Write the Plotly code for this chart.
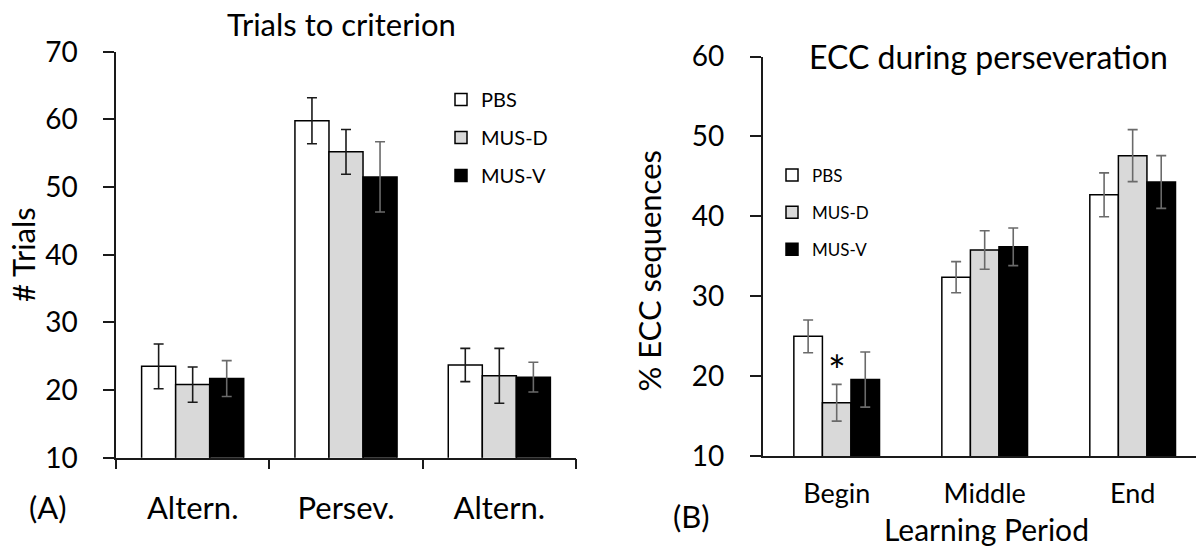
import plotly.graph_objects as go

# ---------------- data ----------------
series = ["PBS", "MUS-D", "MUS-V"]
bar_colors = ["#ffffff", "#d9d9d9", "#000000"]

# Panel A: trials to criterion
cats_a = ["Altern.", "Persev.", "Altern."]
a_pbs = [23.5, 59.8, 23.7]
a_pbs_err = [3.3, 3.4, 2.45]
a_musd = [20.8, 55.2, 22.1]
a_musd_err = [2.6, 3.3, 4.05]
a_musv = [21.7, 51.5, 21.9]
a_musv_err = [2.65, 5.2, 2.2]

# Panel B: ECC during perseveration
cats_b = ["Begin", "Middle", "End"]
b_pbs = [25.0, 32.4, 42.7]
b_pbs_err = [2.05, 1.95, 2.75]
b_musd = [16.7, 35.8, 47.6]
b_musd_err = [2.3, 2.4, 3.25]
b_musv = [19.6, 36.2, 44.3]
b_musv_err = [3.45, 2.35, 3.3]

yticks_a = [10, 20, 30, 40, 50, 60, 70]
yticks_b = [10, 20, 30, 40, 50, 60]

FONT = "Lato, 'Open Sans', sans-serif"
W, H = 1196, 547
AX = "#1a1a1a"
BAR_W_A = 0.222   # bar width in category units, panel A
BAR_W_B = 0.193   # bar width in category units, panel B


def px_x(p):
    return p / W


def px_y(p):
    return 1 - p / H


fig = go.Figure()

a_vals = [a_pbs, a_musd, a_musv]
a_errs = [a_pbs_err, a_musd_err, a_musv_err]
a_errcol = ["#1a1a1a", "#1a1a1a", "#6a6a6a"]
xa = list(range(len(cats_a)))
for i, name in enumerate(series):
    fig.add_trace(go.Bar(
        x=xa, y=a_vals[i], name=name, xaxis="x", yaxis="y",
        width=BAR_W_A, offset=(i - 1.5) * BAR_W_A,
        marker=dict(color=bar_colors[i], line=dict(color="#000000", width=1.5)),
        error_y=dict(type="data", array=a_errs[i], color=a_errcol[i], thickness=1.6, width=5),
        legend="legend", legendgroup="a" + name,
    ))

b_vals = [b_pbs, b_musd, b_musv]
b_errs = [b_pbs_err, b_musd_err, b_musv_err]
for i, name in enumerate(series):
    fig.add_trace(go.Bar(
        x=cats_b, y=b_vals[i], name=name, xaxis="x2", yaxis="y2",
        width=BAR_W_B, offset=(i - 1.5) * BAR_W_B,
        marker=dict(color=bar_colors[i], line=dict(color="#000000", width=1.5)),
        error_y=dict(type="data", array=b_errs[i], color="#6a6a6a", thickness=1.6, width=5),
        legend="legend2", legendgroup="b" + name,
    ))

fig.update_layout(
    width=W, height=H,
    margin=dict(l=0, r=0, t=0, b=0, autoexpand=False),
    paper_bgcolor="white", plot_bgcolor="white",
    font=dict(family=FONT, color="#000000", size=28),
    barmode="overlay",
    xaxis=dict(
        domain=[px_x(116), px_x(576)], range=[-0.5, 2.5], anchor="y", automargin=False,
        tickmode="array", tickvals=xa, ticktext=cats_a, ticks="",
        showline=True, linecolor=AX, linewidth=1.5, showgrid=False, zeroline=False,
        minor=dict(tickmode="array", tickvals=[-0.5, 0.5, 1.5, 2.5], ticks="outside",
                   ticklen=10, tickwidth=1.5, tickcolor=AX, showgrid=False),
        tickfont=dict(size=31), ticklabelstandoff=22,
    ),
    yaxis=dict(
        domain=[px_y(457.7), px_y(51.7)], range=[10, 70], anchor="x", automargin=False,
        tickmode="array", tickvals=yticks_a, ticks="outside", ticklen=11, tickwidth=1.5,
        tickcolor=AX, showline=True, linecolor=AX, linewidth=1.5, showgrid=False,
        zeroline=False, tickfont=dict(size=28), ticklabelstandoff=20,
    ),
    xaxis2=dict(
        domain=[px_x(762.7), 1.0], range=[-0.5, 2.428], anchor="y2", type="category",
        automargin=False,
        ticks="", showline=True, linecolor=AX, linewidth=1.5, showgrid=False,
        zeroline=False, tickfont=dict(size=27), ticklabelstandoff=13,
    ),
    yaxis2=dict(
        domain=[px_y(456.3), px_y(56.5)], range=[10, 60], anchor="x2", automargin=False,
        tickmode="array", tickvals=yticks_b, ticks="outside", ticklen=11, tickwidth=1.5,
        tickcolor=AX, showline=True, linecolor=AX, linewidth=1.5, showgrid=False,
        zeroline=False, tickfont=dict(size=28), ticklabelstandoff=20,
    ),
    legend=dict(
        x=px_x(441), y=px_y(80), xanchor="left", yanchor="top",
        font=dict(size=20), traceorder="grouped", tracegroupgap=9,
        bgcolor="rgba(0,0,0,0)", borderwidth=0,
    ),
    legend2=dict(
        x=px_x(772), y=px_y(157.5), xanchor="left", yanchor="top",
        font=dict(size=17), traceorder="grouped", tracegroupgap=12,
        bgcolor="rgba(0,0,0,0)", borderwidth=0,
    ),
    showlegend=True,
)

annotations = [
    dict(text="Trials to criterion", x=px_x(341.6), y=px_y(24), size=31),
    dict(text="ECC during perseveration", x=px_x(988.7), y=px_y(56), size=32),
    dict(text="(A)", x=px_x(48.3), y=px_y(506.7), size=31),
    dict(text="(B)", x=px_x(691.6), y=px_y(516), size=31),
    dict(text="Learning Period", x=px_x(986), y=px_y(529), size=30),
]
for a in annotations:
    fig.add_annotation(text=a["text"], x=a["x"], y=a["y"], xref="paper", yref="paper",
                       xanchor="center", yanchor="middle", showarrow=False,
                       font=dict(size=a["size"], family=FONT, color="#000000"))

fig.add_annotation(text="# Trials", x=px_x(23), y=px_y(255), xref="paper", yref="paper",
                   textangle=-90, xanchor="center", yanchor="middle", showarrow=False,
                   font=dict(size=31, family=FONT, color="#000000"))
fig.add_annotation(text="% ECC sequences", x=px_x(648.6), y=px_y(271), xref="paper", yref="paper",
                   textangle=-90, xanchor="center", yanchor="middle", showarrow=False,
                   font=dict(size=31, family=FONT, color="#000000"))
# significance marker above MUS-D bar of "Begin"
fig.add_annotation(text="*", x=cats_b[0], y=b_musd[0] + b_musd_err[0] + 1.8, xref="x2", yref="y2",
                   xanchor="center", yanchor="middle", showarrow=False,
                   font=dict(size=42, family=FONT, color="#000000"))

fig.write_html(
    "out.html",
    config={"displayModeBar": False},
    post_script="document.body.style.margin='0';document.body.style.overflow='hidden';",
)
